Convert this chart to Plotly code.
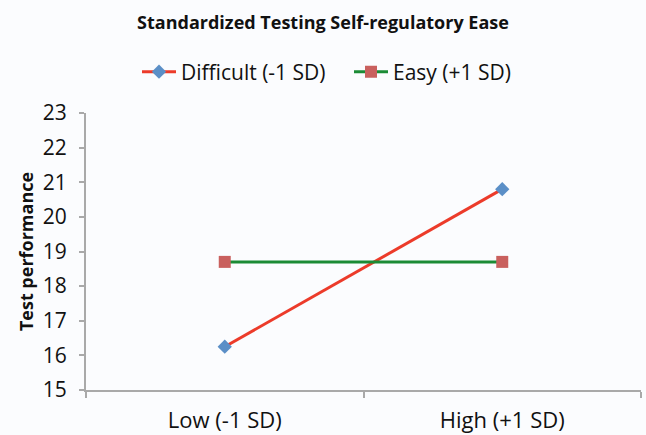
import plotly.graph_objects as go

categories = ["Low (-1 SD)", "High (+1 SD)"]
difficult = [16.25, 20.8]
easy = [18.7, 18.7]
y_ticks = [15, 16, 17, 18, 19, 20, 21, 22, 23]

FONT = "Open Sans"
fig = go.Figure()
fig.add_trace(go.Scatter(
    x=categories, y=difficult, name="Difficult (-1 SD)", mode="lines+markers",
    line=dict(color="#ec3b2a", width=3),
    marker=dict(symbol="diamond", size=11, color="#5b8fc7"),
))
fig.add_trace(go.Scatter(
    x=categories, y=easy, name="Easy (+1 SD)", mode="lines+markers",
    line=dict(color="#1b8b35", width=3),
    marker=dict(symbol="square", size=12, color="#c9605e"),
))
fig.update_layout(
    width=646, height=435,
    margin=dict(l=86, r=5, t=113, b=45),
    paper_bgcolor="#fbfcfe", plot_bgcolor="#fbfcfe",
    font=dict(family=FONT, color="#111111"),
    title=dict(text="<b>Standardized Testing Self-regulatory Ease</b>",
               x=0.5, xanchor="center", y=1 - 23 / 435, yanchor="middle",
               font=dict(size=18, family=FONT)),
    legend=dict(orientation="h", x=(137 - 86) / 555, xanchor="left", y=1 + 41 / 277, yanchor="middle",
                font=dict(size=21, family=FONT), itemwidth=34, entrywidth=163,
                entrywidthmode="pixels", bgcolor="rgba(0,0,0,0)"),
    showlegend=True,
)
fig.update_xaxes(
    type="category", range=[-0.5, 1.5], showgrid=False, showline=True,
    linecolor="#a9a9a9", linewidth=2, ticks="outside", tickson="boundaries",
    ticklen=6, tickcolor="#a9a9a9", tickwidth=1.5, ticklabelstandoff=10,
    tickfont=dict(size=22, family=FONT), zeroline=False, automargin=False,
)
fig.update_yaxes(
    range=[15, 23], tickvals=y_ticks, showgrid=False, showline=True,
    linecolor="#a9a9a9", linewidth=2, ticks="outside", ticklen=5,
    tickcolor="#a9a9a9", tickwidth=1.5, zeroline=False, ticklabelstandoff=8,
    tickfont=dict(size=21, family=FONT), automargin=False,
    title=dict(text="<b>Test performance</b>", font=dict(size=18, family=FONT), standoff=4),
)
fig.write_html("out.html", post_script="document.body.style.margin='0';",
               config={"displayModeBar": False})
